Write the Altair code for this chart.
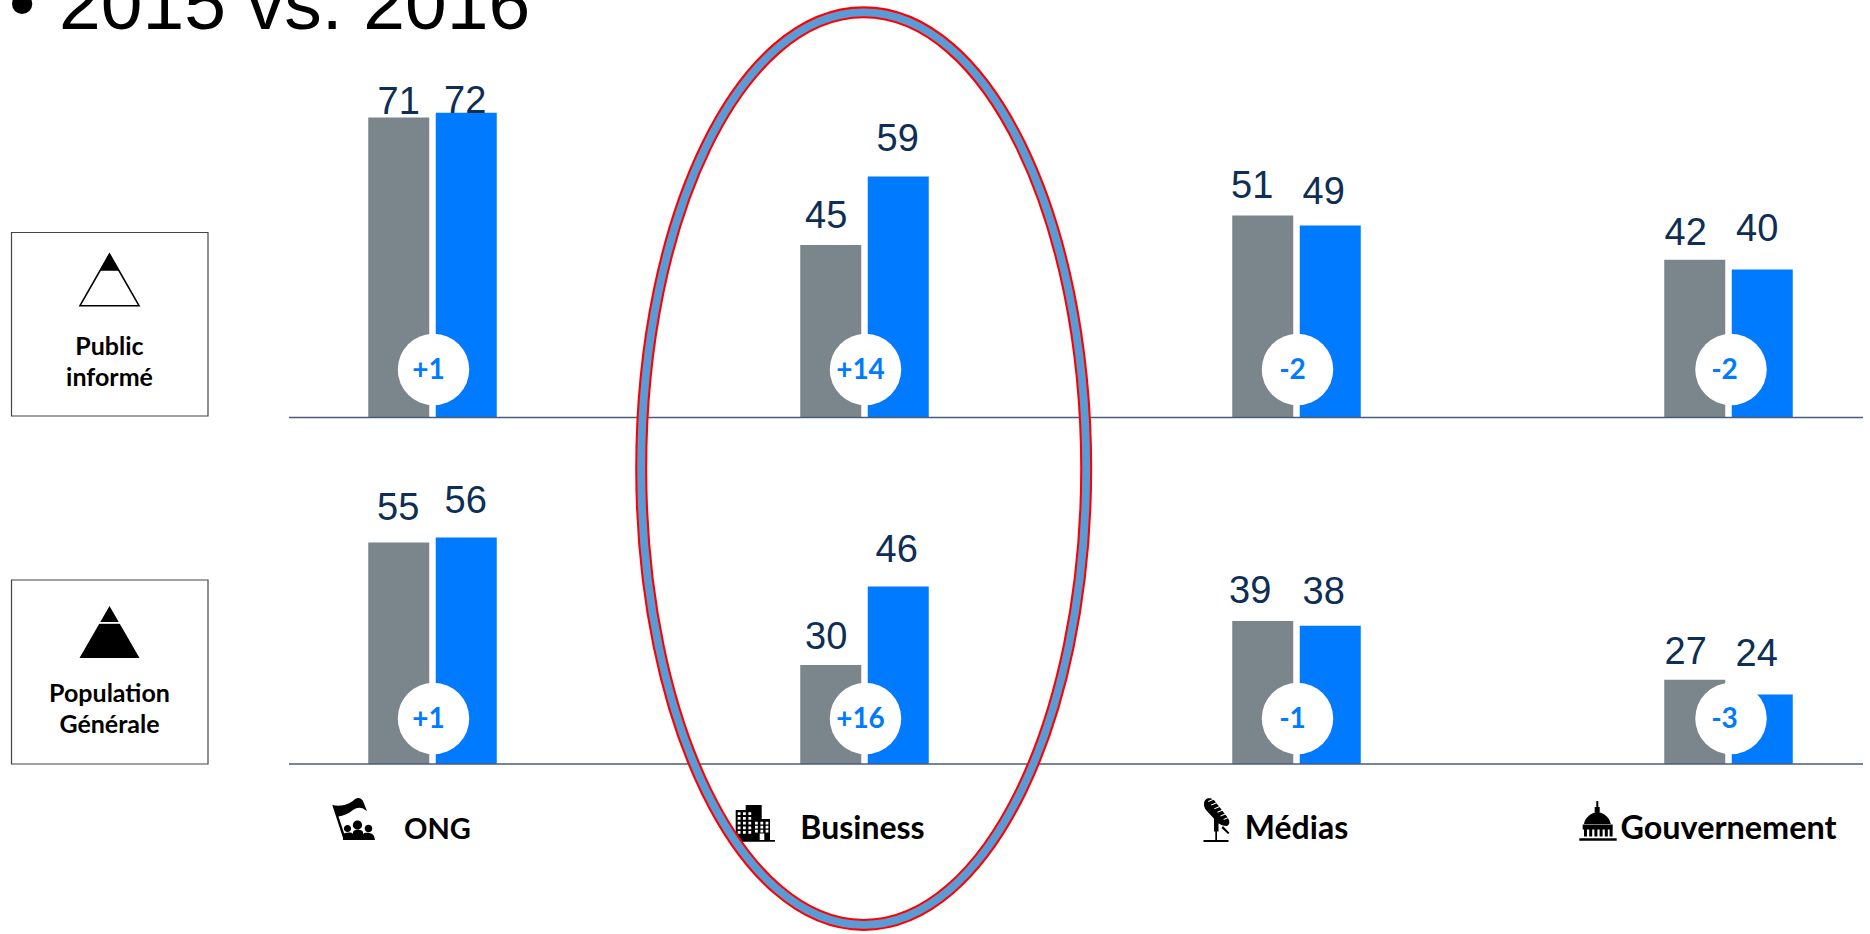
import altair as alt

# Trust scores by institution, 2015 vs 2016
GROUPS = ["ONG", "Business", "Médias", "Gouvernement"]
YEARS = ["2015", "2016"]
INFORMED_2015 = [71, 45, 51, 42]
INFORMED_2016 = [72, 59, 49, 40]
GENERAL_2015 = [55, 30, 39, 27]
GENERAL_2016 = [56, 46, 38, 24]
INFORMED_DELTA = ["+1", "+14", "-2", "-2"]
GENERAL_DELTA = ["+1", "+16", "-1", "-3"]

# Score at which the bars sit on their baseline
FLOOR = 9.8
COLORS = ["#7A868B", "#007AFF"]
NAVY = "#0E2E55"
LINE = "#4B5B78"
BODY_FONT = "Lato"
NUM_FONT = "Liberation Sans"

# Hand placement of the value labels: (dx, lift above the bar)
INFORMED_NUDGE = {
    ("ONG", "2015"): (0, 3.5), ("ONG", "2016"): (-1, 0),
    ("Business", "2015"): (-4.5, 17.5), ("Business", "2016"): (-0.5, 25.5),
    ("Médias", "2015"): (-10.5, 18), ("Médias", "2016"): (-6.5, 21.5),
    ("Gouvernement", "2015"): (-9, 15), ("Gouvernement", "2016"): (-5, 29),
}
GENERAL_NUDGE = {
    ("ONG", "2015"): (-0.5, 22.5), ("ONG", "2016"): (-0.5, 25),
    ("Business", "2015"): (-4.5, 16), ("Business", "2016"): (-1.5, 24.5),
    ("Médias", "2015"): (-12.5, 17.5), ("Médias", "2016"): (-6.5, 22),
    ("Gouvernement", "2015"): (-9, 16), ("Gouvernement", "2016"): (-5.5, 28),
}
BADGE_NUDGE = {"ONG": 1, "Business": 1, "Médias": 1, "Gouvernement": 2.5}
GROUP_LABEL_NUDGE = {"ONG": 5, "Business": -2, "Médias": 0, "Gouvernement": 0}
GROUP_LABEL_SIZE = {"ONG": 29, "Business": 32, "Médias": 32, "Gouvernement": 32.4}

x_scale = alt.Scale(domain=GROUPS, range=[216.5, 1944.5], paddingInner=0.7025, paddingOuter=0.35125)
x_enc = alt.X("group:N", scale=x_scale, axis=None)
offset_enc = alt.XOffset("year:N", scale=alt.Scale(domain=YEARS, paddingInner=0.096))
ONE = alt.Data(values=[{"k": 0}])


def y_scale(baseline):
    # 4.9 px per point, with the floor score on the given baseline
    return alt.Scale(domain=[FLOOR, FLOOR + baseline / 4.9], range=[baseline, 0], nice=False, zero=False)


def shape(path, ox=0, oy=0, fill="black", stroke=None, sw=0):
    # Custom symbol whose path is written in pixels around the (ox, oy) anchor
    kw = dict(shape=path, size=4, filled=True, fill=fill, opacity=1, strokeWidth=sw)
    kw["stroke"] = stroke if stroke else "transparent"
    return alt.Chart(ONE).mark_point(**kw).encode(x=alt.value(ox), y=alt.value(oy))


def rect(x0, y0, x1, y1):
    return f"M{x0},{y0}L{x1},{y0}L{x1},{y1}L{x0},{y1}Z"


def disc(cx, cy, r):
    return f"M{cx - r},{cy}A{r},{r} 0 1 1 {cx + r},{cy}A{r},{r} 0 1 1 {cx - r},{cy}Z"


def caption(text, x, y, size, **kw):
    params = dict(text=text, font=BODY_FONT, fontWeight=700, fontSize=size, color="black",
                  align="center", baseline="alphabetic")
    params.update(kw)
    return alt.Chart(ONE).mark_text(**params).encode(x=alt.value(x), y=alt.value(y))


def panel(baseline, badge_y, v2015, v2016, deltas, nudges):
    scale = y_scale(baseline)
    y_enc = alt.Y("value:Q", scale=scale, axis=None)
    rows = []
    for i, g in enumerate(GROUPS):
        rows.append({"group": g, "year": "2015", "value": v2015[i]})
        rows.append({"group": g, "year": "2016", "value": v2016[i]})
    layers = [
        alt.Chart(alt.Data(values=rows)).mark_bar(stroke=None).encode(
            x=x_enc, xOffset=offset_enc, y=y_enc, y2=alt.datum(FLOOR),
            color=alt.Color("year:N", scale=alt.Scale(domain=YEARS, range=COLORS), legend=None),
        )
    ]
    for row in rows:
        dx, lift = nudges[(row["group"], row["year"])]
        layers.append(
            alt.Chart(alt.Data(values=[row])).mark_text(
                font=NUM_FONT, fontSize=38, color=NAVY, baseline="alphabetic", dx=dx, dy=-lift,
            ).encode(x=x_enc, xOffset=offset_enc, y=y_enc, text="value:Q")
        )
    for i, g in enumerate(GROUPS):
        row = alt.Data(values=[{"group": g, "delta": deltas[i]}])
        layers.append(
            alt.Chart(row).mark_circle(size=5112, color="white", opacity=1, xOffset=BADGE_NUDGE[g]).encode(
                x=x_enc, y=alt.value(badge_y))
        )
        layers.append(
            alt.Chart(row).mark_text(
                font=BODY_FONT, fontWeight=700, fontSize=28, color="#007AFF", baseline="alphabetic", dx=-4,
            ).encode(x=x_enc, y=alt.value(badge_y + 9.5), text="delta:N")
        )
    layers.append(
        alt.Chart(ONE).mark_rule(color=LINE, strokeWidth=1.5).encode(
            x=alt.value(289), x2=alt.value(1863), y=alt.Y(datum=FLOOR, scale=scale, axis=None))
    )
    return layers


# Side boxes naming the two audiences
boxes = [
    alt.Chart(ONE).mark_rect(fill="white", stroke="#444444", strokeWidth=1.2).encode(
        x=alt.value(11.5), x2=alt.value(208), y=alt.value(y0), y2=alt.value(y1))
    for y0, y1 in [(232.5, 416), (580, 764)]
]
audience = boxes + [
    shape("M109.5,254L80,305.7L139,305.7Z", fill="white", stroke="black", sw=1.6),
    shape("M109.5,254L99.5,270.7L119.5,270.7Z"),
    caption("Public", 109.5, 354.5, 25),
    caption("informé", 109.5, 385.5, 25),
    shape("M109.5,606L79.5,658L139.5,658Z"),
    shape(rect(96, 622, 123, 623.8), fill="white"),
    caption("Population", 109.5, 702, 25),
    caption("Générale", 109.5, 733, 25),
]

# Small pictograms beside the institution names
flag = ("M7.3,15C17,17 24,14 29,10C33,6.5 36,8 38,11L42,21C37,17 33,16.5 28,20C23,24 18,26 13.5,26.5"
        "L21,49L18.5,49.5Z")
people = (
    disc(22.5, 38.5, 3.6) + disc(32.5, 35, 4.6) + disc(43.5, 38.5, 3.8)
    + "M18,50L18,45C19,42 27,42 28,44L28,42C29,39 37,39 38,42L38,44C40,42 47,42 49,46L50,50Z"
)
ong_icon = [shape(flag + people, 325, 790)]

tower = rect(20.7, 10, 36.7, 45) + rect(10.7, 15, 20.7, 45) + rect(29.3, 24, 45, 45) + rect(11.7, 45, 50, 46.7)
windows = "".join(
    rect(x, y, x + 2.8, y + 2.8) for x in (12.7, 18, 23.4) for y in (17.3, 22, 26.7, 31.4, 36)
) + "".join(
    rect(x, y, x + 2.8, y + 2.8) for x in (30, 35.4, 40.6) for y in (26.7, 30.7, 34.7)
) + rect(34.7, 38.5, 39.3, 45)
building_icon = [shape(tower, 725, 795), shape(windows, 725, 795, fill="white")]

mic_body = ("M14,19C14,13 20,12 24,15L38,33C40,37 40,39 37,41C33,41 31,40 28,38L16,25C14.5,23 14,21 14,19Z"
            + rect(24, 28.5, 28.5, 46.5) + rect(25.3, 46.5, 27, 55) + rect(13.5, 55, 38.5, 57)
            + "M33,41L39.5,48L38,49L31.5,43Z")
mic_gaps = "".join(
    f"M{18 + 3.1 * k},{16 + 3.6 * k}L{30 + 3.1 * k},{11 + 3.6 * k}L{30.3 + 3.1 * k},{12 + 3.6 * k}"
    f"L{18.3 + 3.1 * k},{17 + 3.6 * k}Z"
    for k in range(6)
)
media_icon = [shape(mic_body, 1190, 785), shape(mic_gaps, 1190, 785, fill="white")]

dome = ("M14,34C15,27 21.5,23 27.3,21.7C33.3,23 40,27 40.7,34Z" + rect(26.3, 11, 28.3, 22)
        + rect(24.7, 17, 29.7, 22) + rect(12.7, 34.5, 42.7, 39.5)
        + "".join(rect(x, 39, x + 3, 46.5) for x in (14, 19.2, 24.4, 29.6, 34.8, 39.6))
        + rect(9.3, 48.3, 46.7, 50.7))
capitol_icon = [shape(dome, 1570, 790)]

# Institution names
group_names = [
    alt.Chart(alt.Data(values=[{"group": g}])).mark_text(
        text=g, font=BODY_FONT, fontWeight=700, fontSize=GROUP_LABEL_SIZE[g], color="black",
        baseline="alphabetic", dx=GROUP_LABEL_NUDGE[g],
    ).encode(x=x_enc, y=alt.value(839))
    for g in GROUPS
]

# Heading, cut by the top edge of the page
heading = [
    caption("•", 9, 29, 75, font=NUM_FONT, fontWeight=400, align="left"),
    caption("2015 vs. 2016", 59, 29, 75, font=NUM_FONT, fontWeight=400, align="left"),
]

# Oval drawn around the Business column
CX, CY, RX, RY = 863.7, 468.6, 222.5, 456.3
K = 0.5523
oval = (
    f"M{CX - RX},{CY}"
    f"C{CX - RX},{CY - K * RY} {CX - K * RX},{CY - RY} {CX},{CY - RY}"
    f"C{CX + K * RX},{CY - RY} {CX + RX},{CY - K * RY} {CX + RX},{CY}"
    f"C{CX + RX},{CY + K * RY} {CX + K * RX},{CY + RY} {CX},{CY + RY}"
    f"C{CX - K * RX},{CY + RY} {CX - RX},{CY + K * RY} {CX - RX},{CY}Z"
)
highlight = [
    alt.Chart(ONE).mark_point(shape=oval, size=4, filled=False, stroke=color, strokeWidth=sw, opacity=1).encode(
        x=alt.value(0), y=alt.value(0))
    for color, sw in [("#FF0000", 12), ("#5B9BD5", 7.8)]
]

layers = (
    audience
    + panel(417.5, 369.5, INFORMED_2015, INFORMED_2016, INFORMED_DELTA, INFORMED_NUDGE)
    + panel(764, 718.5, GENERAL_2015, GENERAL_2016, GENERAL_DELTA, GENERAL_NUDGE)
    + group_names + ong_icon + building_icon + media_icon + capitol_icon
    + heading + highlight
)

chart = (
    alt.layer(*layers)
    .resolve_scale(y="independent", color="shared")
    .properties(width=1870, height=934, padding=0, autosize=alt.AutoSizeParams(type="none"), background="white")
    .configure_view(stroke=None)
)

chart.save("out.html", embed_options={"renderer": "svg", "actions": False})
